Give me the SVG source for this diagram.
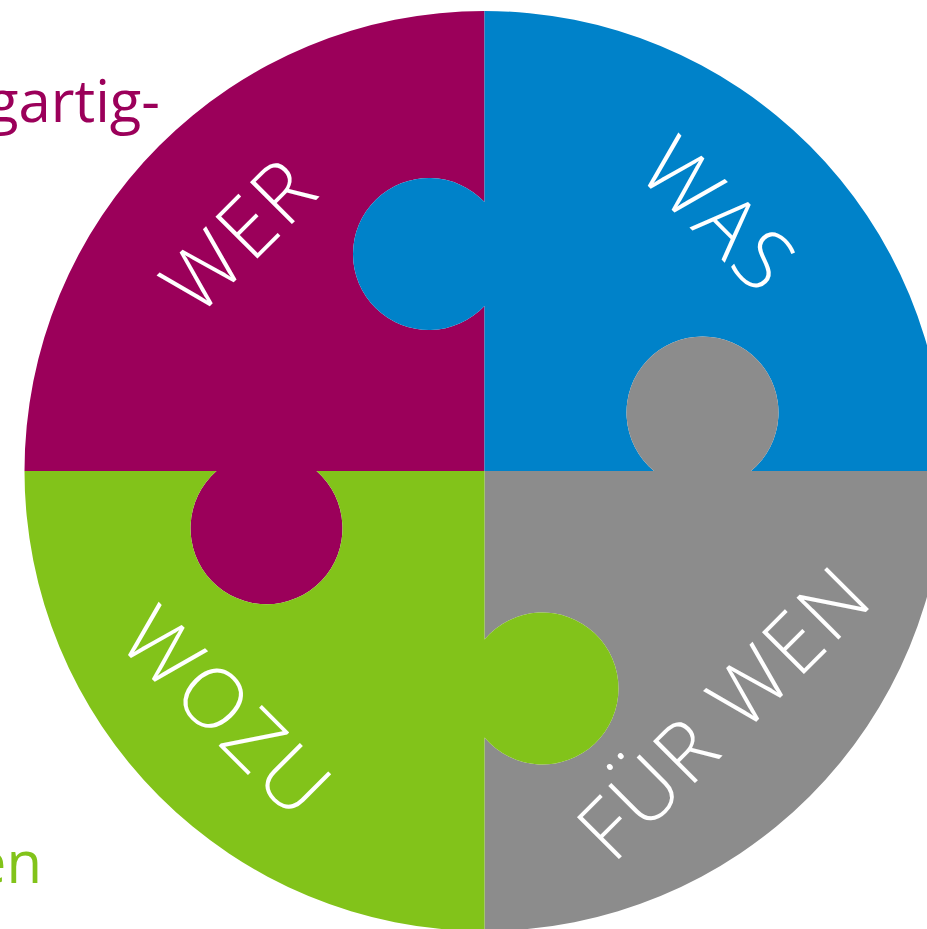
<svg xmlns="http://www.w3.org/2000/svg" width="927" height="929" viewBox="0 0 927 929">
  <style>
    .lbl { font-family: "Open Sans", "Liberation Sans", sans-serif; font-size: 83px; font-weight: 350; letter-spacing: 3px; fill: #ffffff; text-anchor: middle; }
    .side { font-family: "Open Sans", "Liberation Sans", sans-serif; font-size: 58px; font-weight: 400; text-anchor: end; }
  </style>
  <rect x="0" y="0" width="927" height="929" fill="#ffffff"/>
  <g id="side-texts">
    <text class="side" x="160" y="122" fill="#9B005A">gartig-</text>
    <text class="side" x="42" y="883" fill="#82C31A">en</text>
  </g>
  <g id="piece-wer">
    <path fill="#9B005A" d="M484.5,471 L484.5,305.9 A76,76 0 1 1 484.5,202.1 L484.5,11 A460,460 0 0 0 24.5,471 L216.5,471 A76,76 0 1 0 316.5,471 Z"/>
    <text class="lbl" transform="translate(260,256) rotate(-45)">WER</text>
  </g>
  <g id="piece-was">
    <path fill="#0082C9" d="M484.5,471 L484.5,305.9 A76,76 0 1 1 484.5,202.1 L484.5,11 A460,460 0 0 1 944.5,471 L751,471 A76,76 0 1 0 654,471 Z"/>
    <text class="lbl" transform="translate(698,236) rotate(45)">WAS</text>
  </g>
  <g id="piece-fuer-wen">
    <path fill="#8C8C8C" d="M484.5,471 L654,471 A76,76 0 1 1 751,471 L944.5,471 A460,460 0 0 1 484.5,931 L484.5,737.6 A76,76 0 1 0 484.5,639.4 Z"/>
    <text class="lbl" transform="translate(745,733) rotate(-45)">FÜR WEN</text>
  </g>
  <g id="piece-wozu">
    <path fill="#82C31A" d="M484.5,471 L316.5,471 A76,76 0 1 1 216.5,471 L24.5,471 A460,460 0 0 0 484.5,931 L484.5,737.6 A76,76 0 1 0 484.5,639.4 Z"/>
    <text class="lbl" transform="translate(206,733) rotate(45)">WOZU</text>
  </g>
  <g id="connectors"></g>
</svg>
